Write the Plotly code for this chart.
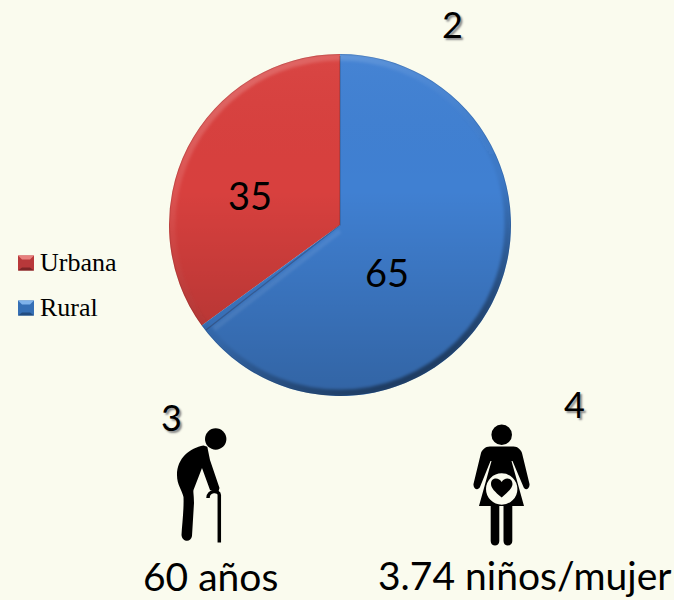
import base64
import re
import plotly.graph_objects as go

# pie data
categories = ["Urbana", "Rural"]
values = [35, 65]
colors = ["#D8403E", "#4080D2"]

BG = "#FAFBEE"
W, H = 674, 600


def px(x):
    return x / W


def py(y):
    return 1 - y / H


def to_paper(path):
    # icon paths are easier to read in pixels, shapes want paper coords
    return re.sub(r"(-?[\d.]+) (-?[\d.]+)",
                  lambda m: f"{px(float(m[1])):.5f} {py(float(m[2])):.5f}", path)


def icon(path, fill="black", line=None, width=0):
    return dict(type="path", xref="paper", yref="paper", path=to_paper(path),
                fillcolor=fill, line=dict(color=line or "rgba(0,0,0,0)", width=width),
                layer="above")


def disc(cx, cy, r, fill="black"):
    return dict(type="circle", xref="paper", yref="paper",
                x0=px(cx - r), x1=px(cx + r), y0=py(cy + r), y1=py(cy - r),
                fillcolor=fill, line=dict(width=0), layer="above")


def label(text, x, y, size, family="Lato", shadow="none"):
    return dict(text=text, xref="paper", yref="paper", x=px(x), y=py(y),
                xanchor="center", yanchor="middle", showarrow=False,
                font=dict(size=size, family=family, color="black", shadow=shadow))


def swatch(y0, base, light, dark):
    return [
        icon(f"M 18 {y0} L 34 {y0} L 34 {y0 + 15} L 18 {y0 + 15} Z", fill=base),
        icon(f"M 18 {y0} L 34 {y0} L 30 {y0 + 4} L 22 {y0 + 4} Z", fill=light),
        icon(f"M 18 {y0 + 15} L 34 {y0 + 15} L 30 {y0 + 12} L 22 {y0 + 12} Z", fill=dark),
    ]


# bevel shading over the pie, plotly has no gradient fill for slices
svg = """<svg xmlns="http://www.w3.org/2000/svg" width="342" height="342">
<defs>
<filter id="b" x="-5%" y="-5%" width="110%" height="110%"><feGaussianBlur stdDeviation="1.8"/></filter>
<filter id="b2" x="-20%" y="-20%" width="140%" height="140%"><feGaussianBlur stdDeviation="1.2"/></filter>
<clipPath id="c"><circle cx="171" cy="171" r="171"/></clipPath>
<linearGradient id="l" x1="0" y1="0" x2="0" y2="1">
<stop offset="0" stop-color="#fff" stop-opacity="0.03"/>
<stop offset="0.4" stop-color="#000" stop-opacity="0"/>
<stop offset="1" stop-color="#000" stop-opacity="0.22"/>
</linearGradient>
<linearGradient id="rim" x1="0.2" y1="0" x2="0.8" y2="1">
<stop offset="0" stop-color="#fff" stop-opacity="0.22"/>
<stop offset="0.3" stop-color="#fff" stop-opacity="0.05"/>
<stop offset="0.6" stop-color="#000" stop-opacity="0.05"/>
<stop offset="1" stop-color="#000" stop-opacity="0.5"/>
</linearGradient>
</defs>
<circle cx="171" cy="171" r="171" fill="url(#l)"/>
<g clip-path="url(#c)">
<circle cx="171" cy="171" r="168" fill="none" stroke="url(#rim)" stroke-width="7" filter="url(#b)"/>
<path d="M175 4 L175 171" stroke="#fff" stroke-opacity="0.09" stroke-width="5" filter="url(#b2)"/>
<path d="M171 177 L45 275" stroke="#fff" stroke-opacity="0.07" stroke-width="5" filter="url(#b2)"/>
</g>
<circle cx="171" cy="171" r="170.6" fill="none" stroke="#000" stroke-opacity="0.14" stroke-width="0.8"/>
<path d="M171 2 L171 171 L37 276" fill="none" stroke="#2a2030" stroke-opacity="0.3" stroke-width="1.2"/>
</svg>"""
svg_uri = "data:image/svg+xml;base64," + base64.b64encode(svg.encode()).decode()

fig = go.Figure()

fig.add_trace(go.Pie(
    labels=categories,
    values=values,
    sort=False,
    direction="clockwise",
    rotation=-126,
    marker=dict(colors=colors, line=dict(width=0)),
    textinfo="none",
    domain=dict(x=[px(169), px(511)], y=[py(396), py(54)]),
    showlegend=False,
))

shapes = []
shapes += swatch(255.5, "#B8383A", "#E8807E", "#7E2426")
shapes += swatch(300.5, "#356FB5", "#7FB2EA", "#224C80")

# old man with cane
shapes.append(disc(215.7, 439, 10.7))
shapes.append(icon(
    "M 203.5 445.5 C 190 448 177 458 177 475 C 177 485 182 490 183.5 497 "
    "C 184 510 182 525 181.5 535 C 182 542 191 543 192 536 L 194 503 "
    "C 194 495 193 492 193.5 490 L 202 468 L 210 490 L 218 493 L 219.5 488 "
    "L 210 460 L 207.3 446.7 Z"))
shapes.append(icon("M 219.3 542.5 L 219.3 495 C 219.3 490 208 490 208 498",
                   fill="rgba(0,0,0,0)", line="black", width=3.5))

# pregnant woman
shapes.append(disc(501.7, 434.7, 10.3))
shapes.append(icon(
    "M 490 446.5 L 513.5 446.5 C 518 446.5 521 450 522 453 L 529.5 484 "
    "C 530 489 525 491 523.5 487 L 512.5 461 L 511.5 461 L 524 506 L 479 506 "
    "L 491.5 461 L 490.5 461 L 480 487 C 478 491 473 489 473.5 484 L 481 453 "
    "C 482 450 485 446.5 490 446.5 Z"))
shapes.append(icon("M 490.7 505 L 499.3 505 L 499.3 541 C 499.3 547 490.7 547 490.7 541 Z"))
shapes.append(icon("M 503.5 505 L 512.3 505 L 512.3 541 C 512.3 547 503.5 547 503.5 541 Z"))
shapes.append(disc(501.7, 489, 15.7, fill=BG))
shapes.append(icon(
    "M 501.7 497.5 C 495 492 491 488 491 484 C 491 477 499 477 501.7 482 "
    "C 504 477 512.5 477 512.5 484 C 512.5 488 508 492 501.7 497.5 Z"))

num_shadow = "2px 2px 2px #8a8a8a"
annotations = [
    label(str(values[0]), 250, 195, 38),
    label(str(values[1]), 387, 272, 38),
    label("2", 453, 24, 36, shadow=num_shadow),
    label("3", 171, 417, 36, shadow=num_shadow),
    label("4", 574, 404, 36, shadow=num_shadow),
    label("60 años", 210, 576, 39),
    label("3.74 niños/mujer", 524.5, 575, 39),
    label(categories[0], 78.5, 262, 26, family="Liberation Serif"),
    label(categories[1], 69, 307, 26, family="Liberation Serif"),
]

fig.update_layout(
    width=W,
    height=H,
    margin=dict(l=0, r=0, t=0, b=0),
    paper_bgcolor=BG,
    plot_bgcolor=BG,
    shapes=shapes,
    annotations=annotations,
    images=[dict(source=svg_uri, xref="paper", yref="paper", x=px(169), y=py(54),
                 sizex=342 / W, sizey=342 / H, xanchor="left", yanchor="top",
                 sizing="stretch", layer="above")],
)

fig.write_html("out.html", config=dict(displayModeBar=False),
               post_script="document.body.style.margin='0';")
